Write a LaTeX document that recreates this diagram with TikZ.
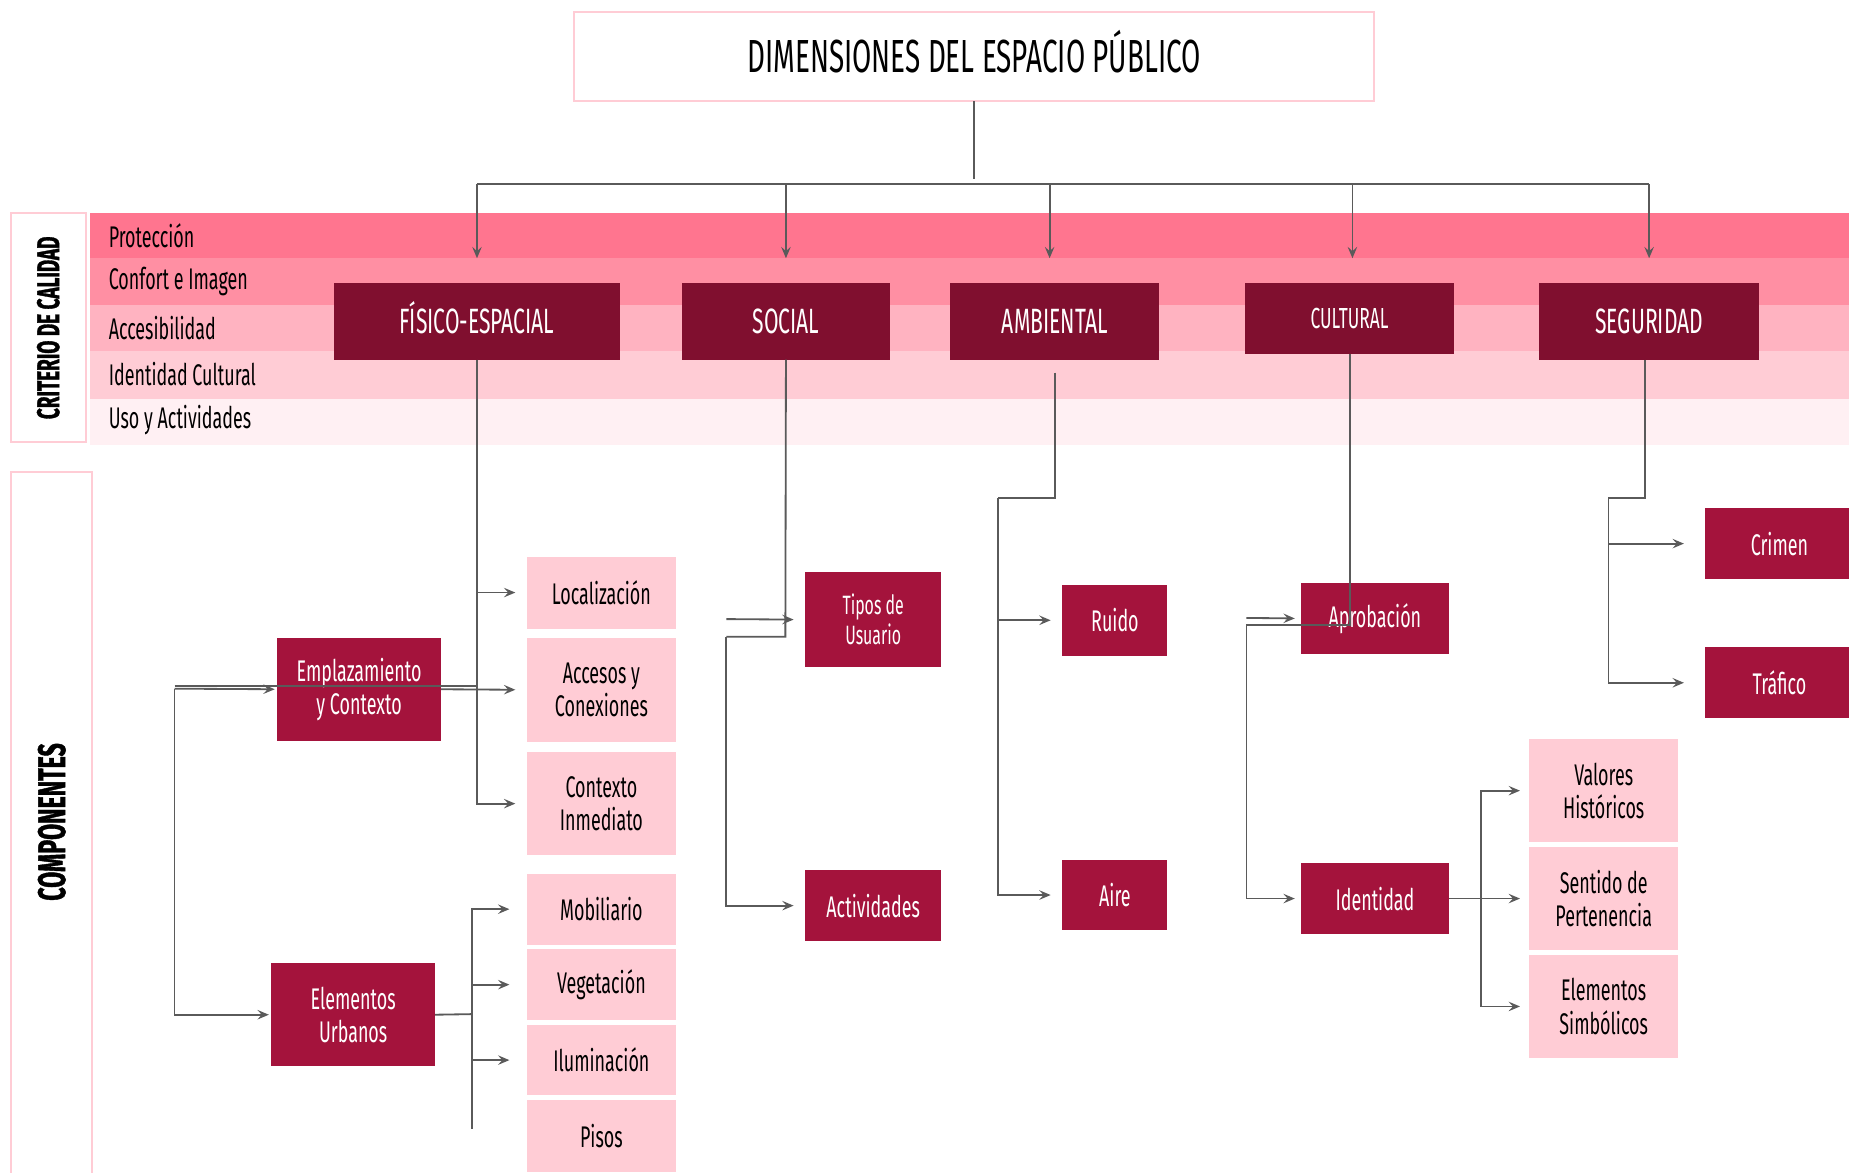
\documentclass[tikz,border=0pt]{standalone}
\usepackage{fontspec}
\setmainfont{Fira Sans}
\newfontfamily\cond[FakeStretch=0.6]{Fira Sans}
\newfontfamily\heavy[FakeStretch=0.6, BoldFeatures={FakeBold=1}]{Fira Sans}
\usetikzlibrary{arrows.meta}

\definecolor{wine}{HTML}{800F2F}
\definecolor{crimson}{HTML}{A4133C}
\definecolor{rose1}{HTML}{FF758F}
\definecolor{rose2}{HTML}{FF8FA3}
\definecolor{rose3}{HTML}{FFB3C1}
\definecolor{rose4}{HTML}{FFCCD5}
\definecolor{rose5}{HTML}{FFF0F3}
\definecolor{wire}{HTML}{5A5A5A}

% box from its corners: name, style, x1, y1, x2, y2, text
\newcommand\bx[7]{%
  \pgfmathsetmacro\bxw{(#5-#3)*0.025}%
  \pgfmathsetmacro\bxh{(#6-#4)*0.025}%
  \node[#2, minimum width=\bxw cm, minimum height=\bxh cm]
    (#1) at ({(#3+#5)/2},{(#4+#6)/2}) {#7};}

\tikzset{
  base/.style={inner sep=0pt, outer sep=0pt, align=center},
  caps/.style={text height=#1, text depth=0pt},
  frame/.style={base, draw=rose4, line width=1.2pt},
  dimbox/.style={base, caps=14.6pt, fill=wine, text=white, font=\cond\fontsize{21.2}{24}\selectfont},
  compbox/.style={base, fill=crimson, text=white, font=\cond\fontsize{18}{20}\selectfont},
  leafbox/.style={base, fill=rose4, text=black, font=\cond\fontsize{18}{20}\selectfont},
  bandlabel/.style={anchor=west, inner sep=0pt, font=\cond\fontsize{18}{20}\selectfont},
  wirestyle/.style={draw=wire, line width=1.1pt},
  arr/.style={wirestyle, -{Stealth[length=2.4mm, width=2mm, inset=0.9mm]}, shorten >=0.25cm},
}

\begin{document}
\begin{tikzpicture}[x=0.025cm, y=-0.025cm]
\clip (0,0) rectangle (1568,994);
\fill[white] (0,0) rectangle (1568,994);

% quality-criteria bands
\fill[rose1] (76,181) rectangle (1568,219);
\fill[rose2] (76,219) rectangle (1568,259);
\fill[rose3] (76,259) rectangle (1568,298);
\fill[rose4] (76,298) rectangle (1568,338);
\fill[rose5] (76,338) rectangle (1568,377);
\node[bandlabel] (b1) at (92,200) {Protección};
\node[bandlabel] (b2) at (92,239) {Confort e Imagen};
\node[bandlabel] (b3) at (92,278) {Accesibilidad};
\node[bandlabel] (b4) at (92,317) {Identidad Cultural};
\node[bandlabel] (b5) at (92,356) {Uso y Actividades};

% side frames
\bx{critframe}{frame}{9}{181}{73}{375}{}
\node[rotate=90, caps=13.1pt, font=\heavy\bfseries\fontsize{19}{20}\selectfont] (crit) at (41,278) {CRITERIO DE CALIDAD};
\bx{compframe}{frame}{9}{400}{78}{1020}{}
\node[rotate=90, caps=16pt, font=\heavy\bfseries\fontsize{23.3}{26}\selectfont] (compo) at (44,697) {COMPONENTES};

% title
\bx{title}{frame, caps=19.3pt, font=\cond\fontsize{28}{32}\selectfont}{487}{10}{1165}{86}{DIMENSIONES DEL ESPACIO PÚBLICO}

% dimensions
\bx{fis}{dimbox}{283}{240}{526}{305}{FÍSICO-ESPACIAL}
\bx{soc}{dimbox}{578}{240}{755}{305}{SOCIAL}
\bx{amb}{dimbox}{806}{240}{983}{305}{AMBIENTAL}
\bx{cul}{dimbox, caps=12.1pt, font=\cond\fontsize{17.5}{20}\selectfont}{1056}{240}{1233}{300}{CULTURAL}
\bx{seg}{dimbox}{1305}{240}{1492}{305}{SEGURIDAD}

% components
\bx{emp}{compbox}{235}{541}{374}{628}{Emplazamiento\\y Contexto}
\bx{elu}{compbox}{230}{817}{369}{904}{Elementos\\Urbanos}
\bx{tip}{compbox, font=\cond\fontsize{16}{18}\selectfont}{683}{485}{798}{566}{Tipos de\\Usuario}
\bx{act}{compbox}{683}{738}{798}{798}{Actividades}
\bx{rui}{compbox}{901}{496}{990}{556}{Ruido}
\bx{air}{compbox}{901}{729}{990}{789}{Aire}
\bx{apr}{compbox}{1103}{494}{1229}{555}{Aprobación}
\bx{ide}{compbox}{1103}{732}{1229}{792}{Identidad}
\bx{cri}{compbox}{1446}{431}{1572}{491}{Crimen}
\bx{tra}{compbox}{1446}{549}{1572}{609}{Tráfico}

% sub-components
\bx{loc}{leafbox}{447}{472}{573}{533}{Localización}
\bx{acc}{leafbox}{447}{541}{573}{629}{Accesos y\\Conexiones}
\bx{ctx}{leafbox}{447}{638}{573}{725}{Contexto\\Inmediato}
\bx{mob}{leafbox}{447}{741}{573}{801}{Mobiliario}
\bx{veg}{leafbox}{447}{805}{573}{865}{Vegetación}
\bx{ilu}{leafbox}{447}{869}{573}{929}{Iluminación}
\bx{pis}{leafbox}{447}{933}{573}{994}{Pisos}
\bx{val}{leafbox}{1297}{627}{1423}{714}{Valores\\Históricos}
\bx{sen}{leafbox}{1297}{718}{1423}{806}{Sentido de\\Pertenencia}
\bx{sim}{leafbox}{1297}{810}{1423}{897}{Elementos\\Simbólicos}

% junction points
\coordinate (tj) at (826,156);
\coordinate (es) at (148,584);
\coordinate (es2) at (148,582);
\coordinate (ej) at (400,860);
\coordinate (etail) at (400,957);
\coordinate (sj1) at (666,540);
\coordinate (sj2) at (616,540);
\coordinate (sj3) at (616,525);
\coordinate (aj) at (846,422);
\coordinate (cj1) at (1057,530);
\coordinate (cj2) at (1057,524);
\coordinate (ij) at (1256,762);
\coordinate (gj) at (1364,422);

% title to dimensions
\draw[wirestyle] (title.south) -- (tj |- 0,152);
\draw[wirestyle, line width=1.6pt] (fis.north |- tj) -- (seg.north |- tj);
\draw[arr, shorten >=0.525cm] (fis.north |- tj) -- (fis.north);
\draw[arr, shorten >=0.525cm] (soc.north |- tj) -- (soc.north);
\draw[arr, shorten >=0.525cm] ([xshift=-0.11cm]amb.north |- tj) -- ([xshift=-0.11cm]amb.north);
\draw[arr, shorten >=0.525cm] ([xshift=0.06cm]cul.north |- tj) -- ([xshift=0.06cm]cul.north);
\draw[arr, shorten >=0.525cm] (seg.north |- tj) -- (seg.north);

% físico-espacial
\draw[arr] (fis.south) |- (loc.west);
\draw[arr] (fis.south) |- (ctx.west);
\draw[wirestyle] (es2) -- (fis.south |- es2);
\draw[arr, shorten >=0.05cm] (es) -- (emp.west);
\draw[arr, shorten >=0.05cm] (es) |- (elu.west);
\draw[arr] (emp.east) -- (acc.west);
\draw[wirestyle] (elu.east) -- (ej);
\draw[wirestyle] (ej) -- (etail);
\draw[arr, shorten >=0.375cm] (ej) |- (mob.west);
\draw[arr, shorten >=0.375cm] (ej) |- (veg.west);
\draw[arr, shorten >=0.375cm] (ej) |- (ilu.west);

% social
\draw[wirestyle] (soc.south) -- (sj1) -- (sj2);
\draw[arr] (sj2) |- (act.west);
\draw[arr] (sj3) -- (tip.west);

% ambiental
\draw[wirestyle, shorten <=0.275cm] (amb.south) |- (aj);
\draw[arr] (aj) |- (rui.west);
\draw[arr] (aj) |- (air.west);

% cultural
\draw[wirestyle] (cul.south) |- (cj1);
\draw[arr, shorten >=0.125cm] (cj2) -- (apr.west);
\draw[arr, shorten >=0.125cm] (cj1) |- (ide.west);
\draw[wirestyle] (ide.east) -- (ij);
\draw[arr, shorten >=0.2cm] (ij) |- (val.west);
\draw[arr, shorten >=0.2cm] (ij) -- (sen.west);
\draw[arr, shorten >=0.2cm] (ij) |- (sim.west);

% seguridad
\draw[wirestyle] ([xshift=-0.08cm]seg.south) |- (gj);
\draw[arr, shorten >=0.45cm] (gj) |- (cri.west);
\draw[arr, shorten >=0.45cm] (gj) |- (tra.west);
\end{tikzpicture}
\end{document}
